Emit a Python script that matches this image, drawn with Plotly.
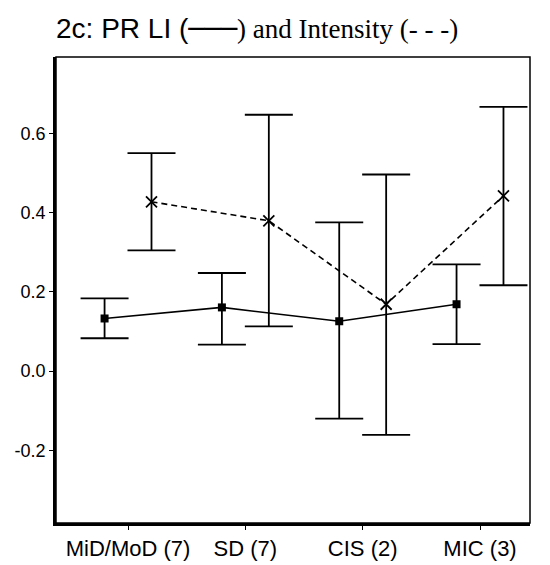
import plotly.graph_objects as go

categories = ["MiD/MoD (7)", "SD (7)", "CIS (2)", "MIC (3)"]
prli_mean = [0.133, 0.161, 0.126, 0.169]
prli_upper = [0.184, 0.248, 0.376, 0.270]
prli_lower = [0.083, 0.067, -0.120, 0.068]
int_mean = [0.428, 0.380, 0.169, 0.443]
int_upper = [0.551, 0.648, 0.497, 0.668]
int_lower = [0.305, 0.113, -0.161, 0.217]
y_ticks = [-0.2, 0.0, 0.2, 0.4, 0.6]
y_tick_text = ["-0.2", "0.0", "0.2", "0.4", "0.6"]

idx = list(range(len(categories)))
dodge = 0.2
x_prli = [i - dodge for i in idx]
x_int = [i + dodge for i in idx]

fig = go.Figure()
fig.add_trace(go.Scatter(
    x=x_prli, y=prli_mean, mode="lines+markers",
    line=dict(color="black", width=1.6),
    marker=dict(symbol="square", size=8, color="black"),
    error_y=dict(type="data", symmetric=False,
                 array=[u - m for u, m in zip(prli_upper, prli_mean)],
                 arrayminus=[m - l for m, l in zip(prli_mean, prli_lower)],
                 color="black", thickness=1.8, width=24),
    showlegend=False))
fig.add_trace(go.Scatter(
    x=x_int, y=int_mean, mode="lines+markers",
    line=dict(color="black", width=1.6, dash="6px,4px"),
    marker=dict(symbol="x-thin", size=11, line=dict(color="black", width=1.8)),
    error_y=dict(type="data", symmetric=False,
                 array=[u - m for u, m in zip(int_upper, int_mean)],
                 arrayminus=[m - l for m, l in zip(int_mean, int_lower)],
                 color="black", thickness=1.8, width=24),
    showlegend=False))

fig.update_layout(
    width=550, height=565,
    margin=dict(l=56, r=20, t=57, b=42),
    paper_bgcolor="white", plot_bgcolor="white",
    font=dict(family="Liberation Sans, Arial", color="black"),
    xaxis=dict(range=[-0.614, 3.426], tickmode="array", tickvals=idx, ticktext=categories,
               automargin=False,
               showgrid=False, zeroline=False, showline=True, linecolor="black", linewidth=2.5,
               ticks="outside", ticklen=4, tickcolor="black", tickfont=dict(size=22),
               ticklabelstandoff=0),
    yaxis=dict(range=[-0.384, 0.794], tickmode="array", tickvals=y_ticks, ticktext=y_tick_text,
               automargin=False,
               showgrid=False, zeroline=False, showline=True, linecolor="black", linewidth=2.5,
               ticks="outside", ticklen=4, tickcolor="black", tickfont=dict(size=18)),
)
fig.add_shape(type="rect", xref="paper", yref="paper", x0=0, y0=0, x1=1, y1=1,
              line=dict(color="black", width=1.5))
fig.add_annotation(
    xref="paper", yref="paper", x=-0.005, y=1.0, xanchor="left", yanchor="bottom", yshift=11,
    showarrow=False, align="left",
    text=("<span style='font-family:Liberation Sans;font-size:28px'>2c: PR LI (</span>"
          "<span style='font-family:DejaVu Sans Mono;font-size:27px'>───</span>"
          "<span style='font-family:Liberation Serif;font-size:27px'>) and Intensity (- - -)</span>"),
    font=dict(size=26, color="black"))

fig.write_html("out.html")
